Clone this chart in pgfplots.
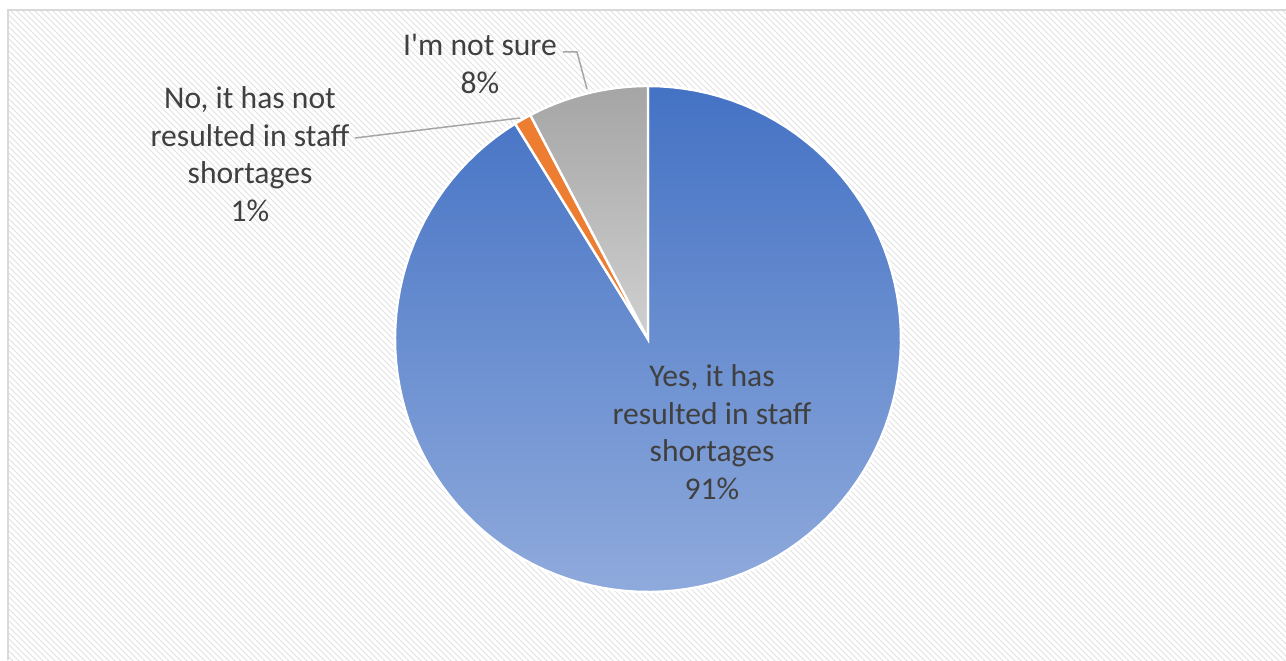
\documentclass[border=0pt]{standalone}
\usepackage{pgfplots}
\pgfplotsset{compat=1.18}
\usepackage{pgfplotstable}
\usepackage{fontspec}
\setmainfont{Carlito}
\usetikzlibrary{patterns}
\definecolor{txt}{HTML}{404040}
\definecolor{lead}{HTML}{A6A6A6}
\definecolor{frame}{HTML}{D9D9D9}
\definecolor{hatch}{HTML}{E2E2E2}
\definecolor{blueTop}{HTML}{4472C4}
\definecolor{blueBot}{HTML}{8FAADC}
\definecolor{orange}{HTML}{ED7D31}
\definecolor{grayTop}{HTML}{A5A5A5}
\definecolor{grayBot}{HTML}{D0D0D0}
% share of each slice (percent), clockwise from 12 o'clock
\pgfplotstableread{
label share
Yes 91.2
No 1.1
NotSure 7.7
}\piedata
\pgfplotstablegetelem{0}{share}\of\piedata\let\sA\pgfplotsretval
\pgfplotstablegetelem{1}{share}\of\piedata\let\sB\pgfplotsretval
\pgfplotstablegetelem{2}{share}\of\piedata\let\sC\pgfplotsretval
\pgfmathsetmacro\aA{0}
\pgfmathsetmacro\aB{3.6*\sA}
\pgfmathsetmacro\aC{3.6*(\sA+\sB)}
\pgfmathsetmacro\aD{3.6*(\sA+\sB+\sC)}
\def\cx{648}\def\cy{321}\def\R{253}
\begin{document}
\begin{tikzpicture}
\begin{axis}[
  width=643pt, height=330pt, scale only axis,
  xmin=0, xmax=1286, ymin=0, ymax=660,
  hide axis, clip=false,
  font=\fontsize{15.8}{18.75}\selectfont,
]
\coordinate (SW) at (axis cs:0,0);
\coordinate (NE) at (axis cs:1286,660);
% background
\fill[white] (axis cs:7,0) rectangle (axis cs:1286,650);
\fill[pattern color=hatch, pattern=north west lines] (axis cs:7,0) rectangle (axis cs:1286,650);
\draw[frame, line width=1.2pt] (axis cs:1286,650) -- (axis cs:8,650) -- (axis cs:8,0);
% slices
\addplot[draw=white, line width=1.2pt, top color=blueTop, bottom color=blueBot, domain=\aA:\aB, samples=120, variable=\t]
  ({\cx+\R*sin(\t)},{\cy+\R*cos(\t)}) -- (axis cs:\cx,\cy) -- cycle;
\addplot[draw=white, line width=1.2pt, fill=orange, domain=\aB:\aC, samples=5, variable=\t]
  ({\cx+\R*sin(\t)},{\cy+\R*cos(\t)}) -- (axis cs:\cx,\cy) -- cycle;
\addplot[draw=white, line width=1.2pt, top color=grayTop, bottom color=grayBot, domain=\aC:\aD, samples=30, variable=\t]
  ({\cx+\R*sin(\t)},{\cy+\R*cos(\t)}) -- (axis cs:\cx,\cy) -- cycle;
% leader lines
\addplot[lead, line width=0.75pt, no marks] coordinates {(355,522) (520,542)};
\addplot[lead, line width=0.75pt, no marks] coordinates {(563,608) (577,608) (587,571)};
% labels
\node[txt, align=center] at (axis cs:712,228) {Yes, it has\\resulted in staff\\shortages\\91\%};
\node[txt, align=center] at (axis cs:250,506) {No, it has not\\resulted in staff\\shortages\\1\%};
\node[txt, align=center] at (axis cs:480,596) {I\textquotesingle m not sure\\8\%};
\end{axis}
\pgfresetboundingbox
\path[use as bounding box] (SW) rectangle (NE);
\end{tikzpicture}
\end{document}
